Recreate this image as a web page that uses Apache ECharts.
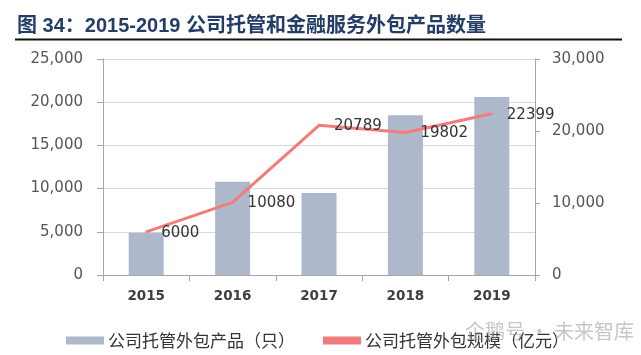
<!DOCTYPE html>
<html><head><meta charset="utf-8">
<script src="https://cdn.jsdelivr.net/npm/echarts@6/dist/echarts.min.js"></script>
<style>html,body{margin:0;padding:0;background:#fff}#c{width:641px;height:355px}</style>
</head><body><div id="c"></div>
<script>
var categories = ['2015', '2016', '2017', '2018', '2019'];
var productCounts = [4900, 10800, 9500, 18500, 20600];
var scaleValues = [6000, 10080, 20789, 19802, 22399];
var leftTicks = [0, 5000, 10000, 15000, 20000, 25000];
var rightTicks = [0, 10000, 20000, 30000];
var titleText = '图 34：2015-2019 公司托管和金融服务外包产品数量';
var seriesNames = ['公司托管外包产品（只）', '公司托管外包规模（亿元）'];

function fmt(v) { return v === 0 ? '0' : v.toLocaleString('en-US'); }

var chart = echarts.init(document.getElementById('c'), null, {renderer: 'canvas'});
chart.setOption({
  animation: false,
  backgroundColor: '#fff',
  grid: {left: 103, right: 106, top: 59, bottom: 80, containLabel: false},
  graphic: [
    {type: 'text', left: 17, top: 16, style: {text: titleText, fontSize: 20, fontWeight: 'bold', fill: '#243d66', fontFamily: '"Liberation Sans","Noto Sans CJK SC",sans-serif'}},
    {type: 'line', shape: {x1: 15, y1: 39.5, x2: 622, y2: 39.5}, style: {stroke: '#111', lineWidth: 2}},
    {type: 'text', left: 465, top: 321, z: 100, style: {text: '企鹅号 · 未来智库', fontSize: 20, fill: 'rgba(160,160,160,0.6)', fontFamily: '"Noto Sans CJK SC",sans-serif'}}
  ],
  legend: {
    left: 61, top: 327, itemWidth: 38, itemHeight: 8, itemGap: 28,
    textStyle: {fontSize: 17, color: '#333', fontFamily: '"Noto Sans CJK SC",sans-serif', padding: [0, 0, 0, -1]},
    data: [
      {name: seriesNames[0], icon: 'rect'},
      {name: seriesNames[1], icon: 'rect', itemStyle: {color: '#f27c7c'}}
    ]
  },
  xAxis: {
    type: 'category', data: categories, boundaryGap: true,
    axisLine: {lineStyle: {color: '#a6a6a6', width: 1}},
    axisTick: {show: true, length: 6, lineStyle: {color: '#a6a6a6'}},
    axisLabel: {margin: 14, fontSize: 13.5, fontWeight: 'bold', color: '#404040', fontFamily: '"DejaVu Sans",sans-serif'}
  },
  yAxis: [
    {
      type: 'value', min: 0, max: 25000, interval: 5000, position: 'left',
      axisLine: {show: true, lineStyle: {color: '#a6a6a6'}},
      axisTick: {show: true, length: 6, lineStyle: {color: '#a6a6a6'}},
      splitLine: {show: true, lineStyle: {color: '#d9d9d9', width: 1}},
      axisLabel: {margin: 20, fontSize: 15, color: '#555', fontFamily: '"DejaVu Sans",sans-serif', formatter: function (v) { return leftTicks.indexOf(v) >= 0 ? fmt(v) : ''; }}
    },
    {
      type: 'value', min: 0, max: 30000, interval: 10000, position: 'right',
      axisLine: {show: true, lineStyle: {color: '#a6a6a6'}},
      axisTick: {show: true, length: 5, lineStyle: {color: '#a6a6a6'}},
      splitLine: {show: false},
      axisLabel: {margin: 17, fontSize: 15, color: '#555', fontFamily: '"DejaVu Sans",sans-serif', formatter: function (v) { return rightTicks.indexOf(v) >= 0 ? fmt(v) : ''; }}
    }
  ],
  series: [
    {
      name: seriesNames[0], type: 'bar', yAxisIndex: 0, data: productCounts,
      barWidth: 35, itemStyle: {color: '#adb9ca'}
    },
    {
      name: seriesNames[1], type: 'line', yAxisIndex: 1, data: scaleValues,
      symbol: 'circle', symbolSize: 2, itemStyle: {color: '#f27c7c'},
      lineStyle: {color: '#f27c7c', width: 3},
      label: {show: true, position: 'right', distance: 14, offset: [0, 1], fontSize: 15, color: '#333', fontFamily: '"DejaVu Sans",sans-serif'},
      z: 5
    }
  ]
});
</script></body></html>
